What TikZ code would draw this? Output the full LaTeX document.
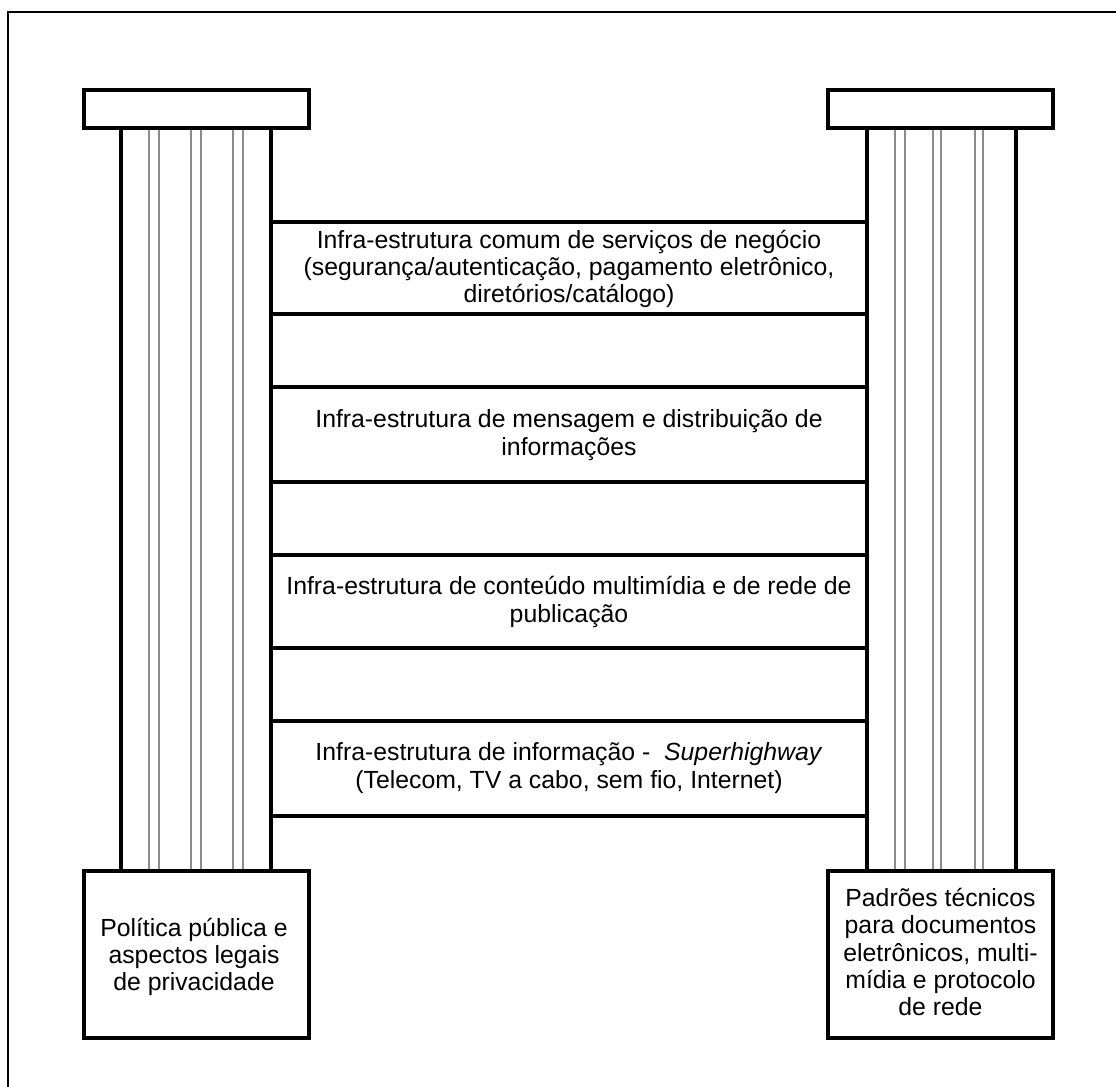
\documentclass[tikz,border=0pt]{standalone}
\usepackage{fontspec}
\setmainfont{Liberation Sans}
\begin{document}
\begin{tikzpicture}[x=0.75pt,y=-0.75pt,
  heavy/.style={line width=2.4pt,draw=black},
  flute/.style={line width=1.4pt,draw=black!45},
  slab/.style={heavy,fill=white,inner sep=0pt},
  label/.style={font=\fontsize{18.6}{20.5}\selectfont,align=center,inner sep=0pt}]
\useasboundingbox (0,0) rectangle (1116,1087);

% outer frame (runs past the right and bottom edges)
\begin{scope}
  \clip (0,0) rectangle (1116,1087);
  \draw[line width=1.6pt] (8,12) rectangle (1140,1130);
\end{scope}

% left column shaft and flutes
\draw[heavy] (121,128) -- (121,871);
\draw[heavy] (271,128) -- (271,871);
\foreach \x in {149,159,191,201,233,243}
  \draw[flute] (\x,128) -- (\x,871);

% right column shaft and flutes
\draw[heavy] (867,128) -- (867,871);
\draw[heavy] (1016,128) -- (1016,871);
\foreach \x in {895,905,933,941,975,983}
  \draw[flute] (\x,128) -- (\x,871);

% capitals
\node[slab,minimum width=168.75pt,minimum height=28.5pt] (capL) at (196.5,109) {};
\node[slab,minimum width=168.75pt,minimum height=28.5pt] (capR) at (940.5,109) {};

% bases
\node[slab,minimum width=168.75pt,minimum height=125.25pt] (baseL) at (196.5,954.5) {};
\node[slab,minimum width=168.75pt,minimum height=125.25pt] (baseR) at (940.5,954.5) {};
\node[label] (txtL) at (194,957) {Política pública e\\aspectos legais\\de privacidade};
\node[label] (txtR) at (940.5,952) {Padrões técnicos\\para documentos\\eletrônicos, multi-\\mídia e protocolo\\de rede};

% layer boundaries between the columns
\foreach \y in {222,314,387,482,555,648,721,816}
  \draw[heavy] (271,\y) -- (867,\y);

% layer labels
\node[label] (lay1) at (569,269) {Infra-estrutura comum de serviços de negócio\\(segurança/autenticação, pagamento eletrônico,\\diretórios/catálogo)};
\node[label] (lay2) at (569,435) {Infra-estrutura de mensagem e distribuição de\\informações};
\node[label] (lay3) at (569,602) {Infra-estrutura de conteúdo multimídia e de rede de\\publicação};
\node[label] (lay4) at (569,768) {Infra-estrutura de informação -\ \ \textit{Superhighway}\\(Telecom, TV a cabo, sem fio, Internet)};
\end{tikzpicture}
\end{document}
